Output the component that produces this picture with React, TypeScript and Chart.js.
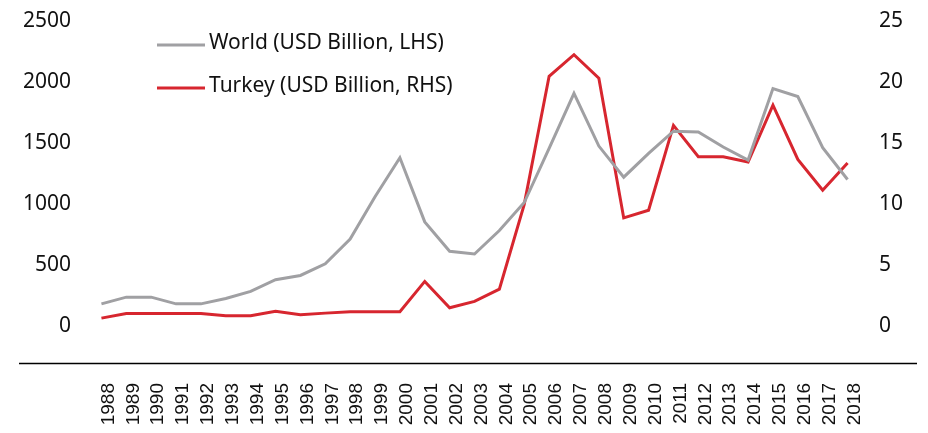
import React, { useEffect, useRef } from "react";
import { Chart, registerables } from "chart.js";

Chart.register(...registerables);

const years = ["1988","1989","1990","1991","1992","1993","1994","1995","1996","1997","1998","1999","2000","2001","2002","2003","2004","2005","2006","2007","2008","2009","2010","2011","2012","2013","2014","2015","2016","2017","2018"];
const world = [164,219,219,164,164,208,266,362,397,493,696,1042,1362,836,595,573,765,995,1440,1891,1458,1203,1398,1580,1573,1450,1343,1930,1864,1445,1184];
const turkey = [0.47,0.85,0.85,0.85,0.85,0.66,0.66,1.04,0.74,0.88,0.99,0.99,0.99,3.48,1.32,1.84,2.85,9.8,20.3,22.07,20.15,8.69,9.32,16.28,13.7,13.7,13.27,17.93,13.49,10.96,13.2];
const leftTicks = [0,500,1000,1500,2000,2500];
const rightTicks = [0,5,10,15,20,25];
const legendLabels = ["World (USD Billion, LHS)", "Turkey (USD Billion, RHS)"];
const colors = ["#A0A0A3", "#D7262F"];

const TICK_FONT = "'Noto Sans', sans-serif";

const overlayPlugin = {
  id: "overlay",
  afterDraw(chart: any) {
    const ctx = chart.ctx;
    const area = chart.chartArea;
    ctx.save();
    ctx.strokeStyle = "#000";
    ctx.lineWidth = 1.5;
    ctx.beginPath();
    ctx.moveTo(19, area.bottom + 0.5);
    ctx.lineTo(917, area.bottom + 0.5);
    ctx.stroke();
    const ys = [45, 88];
    ctx.font = "21px " + TICK_FONT;
    ctx.textBaseline = "middle";
    ctx.textAlign = "left";
    legendLabels.forEach((lab, i) => {
      ctx.strokeStyle = colors[i];
      ctx.lineWidth = 3;
      ctx.beginPath();
      ctx.moveTo(157, ys[i]);
      ctx.lineTo(205, ys[i]);
      ctx.stroke();
      ctx.fillStyle = "#111";
      ctx.fillText(lab, 209, ys[i] - 2);
    });
    ctx.restore();
  },
};

const noPad = (s: any) => {
  s.paddingTop = 0;
  s.paddingBottom = 0;
};

export default function App() {
  const ref = useRef<HTMLCanvasElement>(null);
  useEffect(() => {
    if (!ref.current) return;
    const chart = new Chart(ref.current, {
      type: "line",
      data: {
        labels: years,
        datasets: [
          { label: legendLabels[0], data: world, borderColor: colors[0], borderWidth: 3, pointRadius: 0, yAxisID: "y", tension: 0 },
          { label: legendLabels[1], data: turkey, borderColor: colors[1], borderWidth: 3, pointRadius: 0, yAxisID: "y1", tension: 0 },
        ],
      },
      options: {
        animation: false,
        responsive: false,
        layout: { padding: { top: 19, left: 0, right: 0, bottom: 0 } },
        plugins: { legend: { display: false }, tooltip: { enabled: false } },
        scales: {
          x: {
            offset: true,
            grid: { display: false, drawTicks: false },
            border: { display: false },
            ticks: {
              minRotation: 90,
              maxRotation: 90,
              autoSkip: false,
              padding: 20,
              labelOffset: 7,
              color: "#111",
              font: { family: "'Liberation Sans', Arial, sans-serif", size: 19 },
            },
            afterFit: (s: any) => { s.height = 70; s.paddingLeft = 0; s.paddingRight = 0; },
          },
          y: {
            position: "left",
            min: -321,
            max: 2500,
            grid: { display: false, drawTicks: false },
            border: { display: false },
            afterBuildTicks: (s: any) => { s.ticks = leftTicks.map((v) => ({ value: v })); },
            ticks: { padding: 18, labelOffset: 2, color: "#111", font: { family: TICK_FONT, size: 21 }, callback: (v: any) => String(v) },
            afterFit: (s: any) => { s.width = 89; noPad(s); },
          },
          y1: {
            position: "right",
            min: -3.21,
            max: 25,
            grid: { display: false, drawTicks: false },
            border: { display: false },
            afterBuildTicks: (s: any) => { s.ticks = rightTicks.map((v) => ({ value: v })); },
            ticks: { padding: 19, labelOffset: 2, color: "#111", font: { family: TICK_FONT, size: 21 }, callback: (v: any) => String(v) },
            afterFit: (s: any) => { s.width = 68; noPad(s); },
          },
        },
      },
      plugins: [overlayPlugin],
    });
    return () => chart.destroy();
  }, []);
  return (
    <div style={{ position: "absolute", left: 0, top: 0, width: 928, height: 433, background: "#fff" }}>
      <canvas ref={ref} width={928} height={433} style={{ display: "block" }} />
    </div>
  );
}
